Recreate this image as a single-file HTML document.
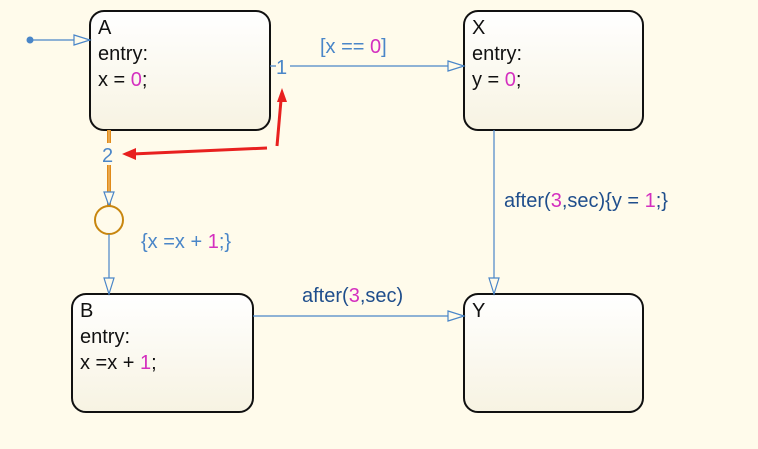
<!DOCTYPE html>
<html><head><style>
body{margin:0;background:#fffbeb;}
svg{display:block}
text{font-family:"Liberation Sans",sans-serif;font-size:20px}
</style></head><body>
<svg width="758" height="449" viewBox="0 0 758 449">
<defs>
<linearGradient id="g" x1="0" y1="0" x2="0" y2="1">
<stop offset="0" stop-color="#ffffff"/><stop offset="1" stop-color="#f7f3e2"/>
</linearGradient>
</defs>
<rect width="758" height="449" fill="#fffbeb"/>
<rect x="90" y="11" width="180" height="119" rx="14" fill="url(#g)" stroke="#111" stroke-width="2"/>
<rect x="464" y="11" width="179" height="119" rx="14" fill="url(#g)" stroke="#111" stroke-width="2"/>
<rect x="72" y="294" width="181" height="118" rx="14" fill="url(#g)" stroke="#111" stroke-width="2"/>
<rect x="464" y="294" width="179" height="118" rx="14" fill="url(#g)" stroke="#111" stroke-width="2"/>
<g fill="#111">
<text x="98" y="34">A</text><text x="98" y="60">entry:</text><text x="98" y="86">x = <tspan fill="#d42fbf">0</tspan>;</text>
<text x="472" y="34">X</text><text x="472" y="60">entry:</text><text x="472" y="86">y = <tspan fill="#d42fbf">0</tspan>;</text>
<text x="80" y="317">B</text><text x="80" y="343">entry:</text><text x="80" y="369">x =x + <tspan fill="#d42fbf">1</tspan>;</text>
<text x="472" y="317">Y</text>
</g>
<circle cx="30" cy="40" r="3.5" fill="#4a86c8"/>
<line x1="30" y1="40" x2="90" y2="40" stroke="#4a86c8" stroke-width="1.2"/>
<polygon points="74,35 90,40 74,45" fill="#fffbeb" stroke="#4a86c8" stroke-width="1.2"/>
<line x1="270" y1="66" x2="464" y2="66" stroke="#4a86c8" stroke-width="1.2"/>
<polygon points="448,61 464,66 448,71" fill="#fffbeb" stroke="#4a86c8" stroke-width="1.2"/>
<rect x="276" y="56" width="14" height="20" fill="#fffbeb"/>
<text x="276" y="74" fill="#4a86c8">1</text>
<text x="320" y="53" fill="#4a86c8">[x == <tspan fill="#d42fbf">0</tspan>]</text>
<line x1="494" y1="130" x2="494" y2="294" stroke="#4a86c8" stroke-width="1.2"/>
<polygon points="489,278 494,294 499,278" fill="#fffbeb" stroke="#4a86c8" stroke-width="1.2"/>
<text x="504" y="207" fill="#1f4e8c">after(<tspan fill="#d42fbf">3</tspan>,sec){y = <tspan fill="#d42fbf">1</tspan>;}</text>
<line x1="253" y1="316" x2="464" y2="316" stroke="#4a86c8" stroke-width="1.2"/>
<polygon points="448,311 464,316 448,321" fill="#fffbeb" stroke="#4a86c8" stroke-width="1.2"/>
<text x="302" y="302" fill="#1f4e8c">after(<tspan fill="#d42fbf">3</tspan>,sec)</text>
<line x1="109" y1="130" x2="109" y2="206" stroke="#e08a1a" stroke-width="4"/>
<line x1="109" y1="130" x2="109" y2="206" stroke="#f2c27a" stroke-width="1"/>
<rect x="100" y="143" width="20" height="22" fill="#fffbeb"/>
<text x="102" y="162" fill="#4a86c8">2</text>
<polygon points="104,192 109,206 114,192" fill="#fffbeb" stroke="#4a86c8" stroke-width="1.2"/>
<circle cx="109" cy="220" r="14" fill="#fffbeb" stroke="#c8860f" stroke-width="2"/>
<line x1="109" y1="234" x2="109" y2="294" stroke="#4a86c8" stroke-width="1.2"/>
<polygon points="104,278 109,294 114,278" fill="#fffbeb" stroke="#4a86c8" stroke-width="1.2"/>
<text x="141" y="248" fill="#4a86c8">{x =x + <tspan fill="#d42fbf">1</tspan>;}</text>
<g stroke="#e8201f" stroke-width="3" fill="#e8201f">
<line x1="277" y1="146" x2="281" y2="100"/>
<line x1="267" y1="148" x2="132" y2="154"/>
</g>
<polygon points="282,88 277,102 287,102" fill="#e8201f"/>
<polygon points="122,154 136,148 136,160" fill="#e8201f"/>
</svg>
</body></html>
